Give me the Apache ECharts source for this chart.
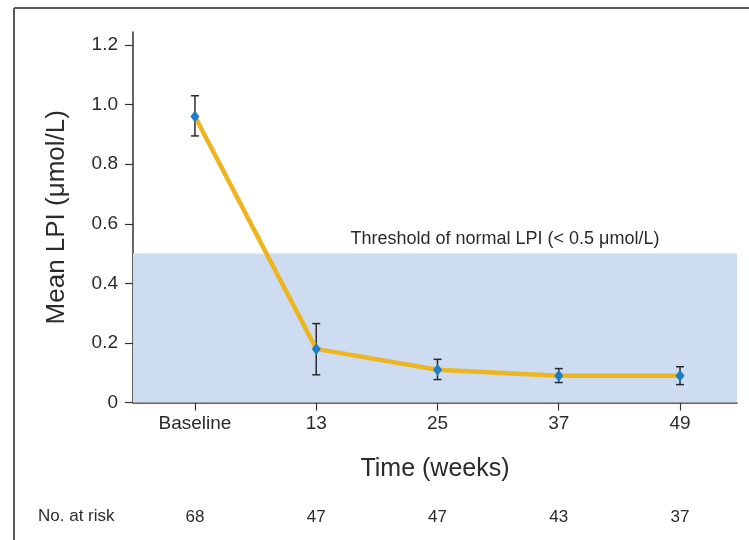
<!DOCTYPE html>
<html>
<head>
<meta charset="utf-8">
<title>Mean LPI over time</title>
<script src="https://cdn.jsdelivr.net/npm/echarts@6/dist/echarts.min.js"></script>
<style>
  html, body { margin: 0; padding: 0; background: #ffffff; }
  #chart { width: 749px; height: 540px; }
</style>
</head>
<body>
<div id="chart"></div>
<script>
// Time points (shown evenly spaced) and their labels
const timeLabels = ['Baseline', '13', '25', '37', '49'];
// Mean LPI (µmol/L) at each time point, with error bar limits
const meanLPI = [0.96, 0.18, 0.11, 0.09, 0.09];
const lowerLPI = [0.895, 0.093, 0.077, 0.067, 0.060];
const upperLPI = [1.030, 0.265, 0.145, 0.114, 0.120];
// Patients at risk at each time point
const atRisk = [68, 47, 47, 43, 37];
// Y axis ticks
const yTicks = [0, 0.2, 0.4, 0.6, 0.8, 1.0, 1.2];
// Normal LPI threshold
const threshold = 0.5;

const FONT = "'Liberation Sans', Arial, Helvetica, sans-serif";
const TEXT = '#2b2b2b';
const X_MIN = -0.511, X_MAX = 4.47;
const Y_MAX = 1.244;

const idx = timeLabels.map((_, i) => i);
const lineData = meanLPI.map((v, i) => [i, v]);
const errData = meanLPI.map((v, i) => [i, lowerLPI[i], upperLPI[i]]);

const chart = echarts.init(document.getElementById('chart'), null, { renderer: 'canvas' });

chart.setOption({
  animation: false,
  backgroundColor: '#ffffff',
  grid: { left: 133, right: 12, top: 32, bottom: 137.5, containLabel: false },
  xAxis: [{
    type: 'value',
    min: X_MIN, max: X_MAX,
    splitLine: { show: false },
    axisLine: { show: true, onZero: false, lineStyle: { color: '#333', width: 1.5 } },
    axisTick: { show: true, length: 8, customValues: idx, lineStyle: { color: '#333', width: 1.2 } },
    axisLabel: {
      customValues: idx, margin: 12,
      formatter: v => timeLabels[Math.round(v)],
      color: TEXT, fontFamily: FONT, fontSize: 19
    },
    name: 'Time (weeks)', nameLocation: 'middle', nameGap: 54,
    nameTextStyle: { color: TEXT, fontFamily: FONT, fontSize: 25 }
  }, {
    type: 'value',
    position: 'bottom',
    offset: 100,
    min: X_MIN, max: X_MAX,
    splitLine: { show: false },
    axisLine: { show: false },
    axisTick: { show: false },
    axisLabel: {
      customValues: idx, margin: 6,
      formatter: v => String(atRisk[Math.round(v)]),
      color: TEXT, fontFamily: FONT, fontSize: 17
    }
  }],
  yAxis: {
    type: 'value',
    min: 0, max: Y_MAX,
    splitLine: { show: false },
    axisLine: { show: true, onZero: false, lineStyle: { color: '#333', width: 1.5 } },
    axisTick: { show: true, length: 8, customValues: yTicks, lineStyle: { color: '#333', width: 1.2 } },
    axisLabel: {
      customValues: yTicks, margin: 15,
      formatter: v => (v === 0 ? '0' : v.toFixed(1)),
      color: TEXT, fontFamily: FONT, fontSize: 19
    },
    name: 'Mean LPI (μmol/L)', nameLocation: 'middle', nameGap: 63, nameRotate: 90,
    nameTextStyle: { color: TEXT, fontFamily: FONT, fontSize: 26 }
  },
  graphic: [
    // outer frame: top and left rules
    { type: 'line', shape: { x1: 14, y1: 8, x2: 749, y2: 8 }, style: { stroke: '#5a5a5a', lineWidth: 2 }, z: 10 },
    { type: 'line', shape: { x1: 14, y1: 8, x2: 14, y2: 540 }, style: { stroke: '#5a5a5a', lineWidth: 2 }, z: 10 },
    { type: 'text', left: 38, top: 508, style: { text: 'No. at risk', fill: TEXT, font: '17px ' + FONT } }
  ],
  series: [{
    // shaded normal range
    type: 'line',
    data: [],
    z: 1,
    markArea: {
      silent: true,
      itemStyle: { color: '#cddcf0' },
      label: {
        show: true, position: 'top', distance: 6, offset: [70, 0],
        color: TEXT, fontFamily: FONT, fontSize: 18,
        formatter: 'Threshold of normal LPI (< 0.5 μmol/L)'
      },
      data: [[{ coord: [X_MIN, 0] }, { coord: [X_MAX, threshold] }]]
    }
  }, {
    // error bars
    type: 'custom',
    z: 2,
    data: errData,
    renderItem: function (params, api) {
      const x = api.value(0);
      const lo = api.coord([x, api.value(1)]);
      const hi = api.coord([x, api.value(2)]);
      const hw = 4;
      const st = { stroke: '#2a2a2a', lineWidth: 1.5 };
      return {
        type: 'group',
        children: [
          { type: 'line', shape: { x1: lo[0], y1: lo[1], x2: hi[0], y2: hi[1] }, style: st },
          { type: 'line', shape: { x1: lo[0] - hw, y1: lo[1], x2: lo[0] + hw, y2: lo[1] }, style: st },
          { type: 'line', shape: { x1: hi[0] - hw, y1: hi[1], x2: hi[0] + hw, y2: hi[1] }, style: st }
        ]
      };
    }
  }, {
    // mean LPI
    type: 'line',
    z: 3,
    data: lineData,
    lineStyle: { color: '#EDB51F', width: 4.5 },
    symbol: 'diamond',
    symbolSize: [9, 12],
    itemStyle: { color: '#1f7dc4' },
    showSymbol: true
  }]
});
</script>
</body>
</html>
